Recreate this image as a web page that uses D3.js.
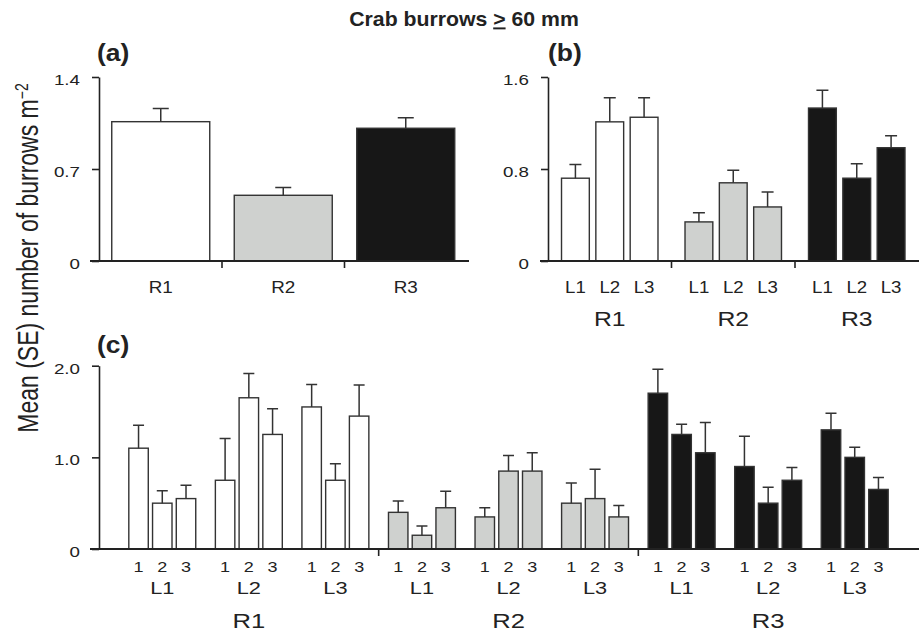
<!DOCTYPE html>
<html lang="en">
<head>
  <meta charset="utf-8">
  <title>Crab burrows</title>
  <script src="https://cdn.jsdelivr.net/npm/d3@7"></script>
  <style>
    body { margin: 0; background: #fff; }
    text { font-family: "Liberation Sans", Arial, sans-serif; fill: #222; }
    .axis path, .axis line { stroke: #222; stroke-width: 1.6; }
    .axis text { font-size: 15px; }
    .bar { stroke: #333; stroke-width: 1.4; }
    .err { stroke: #333; stroke-width: 1.5; fill: none; }
    .base { stroke: #222; stroke-width: 1.8; }
    .sep { stroke: #222; stroke-width: 1.6; }
    .panel { font-size: 23px; font-weight: bold; }
  </style>
</head>
<body>
  <div id="chart"></div>
  <script>
    // categories
    var regions = ["R1", "R2", "R3"];
    var levels = ["L1", "L2", "L3"];
    var sites = ["1", "2", "3"];
    var colors = ["#ffffff", "#cfd1cf", "#171717"];

    // (a) by region
    var aMean = [1.06, 0.50, 1.01];
    var aSE = [0.10, 0.06, 0.08];
    var aTicks = [0, 0.7, 1.4];

    // (b) by region x level
    var bMean = [0.72, 1.21, 1.25, 0.34, 0.68, 0.47, 1.33, 0.72, 0.985];
    var bSE = [0.12, 0.21, 0.17, 0.08, 0.11, 0.13, 0.155, 0.125, 0.105];
    var bTicks = [0, 0.8, 1.6];

    // (c) by region x level x site
    var cMean = [1.10, 0.50, 0.55, 0.75, 1.65, 1.25, 1.55, 0.75, 1.45,
                 0.40, 0.15, 0.45, 0.35, 0.85, 0.85, 0.50, 0.55, 0.35,
                 1.70, 1.25, 1.05, 0.90, 0.50, 0.75, 1.30, 1.00, 0.65];
    var cSE = [0.25, 0.135, 0.145, 0.455, 0.265, 0.28, 0.245, 0.18, 0.34,
               0.125, 0.10, 0.18, 0.10, 0.17, 0.20, 0.22, 0.32, 0.125,
               0.26, 0.11, 0.33, 0.33, 0.175, 0.14, 0.18, 0.11, 0.13];
    var cTicks = [0, 1.0, 2.0];

    var W = 920, H = 634;
    var svg = d3.select("#chart").append("svg")
      .attr("width", W).attr("height", H);

    // the source figure is a bit stretched sideways, so text gets a scaleX
    function place(x, y, sx) {
      return "translate(" + x + "," + y + ") scale(" + sx + ",1)";
    }

    function yAxis(y, x, ticks, fmt) {
      svg.append("g").attr("class", "axis")
        .attr("transform", "translate(" + x + ",0)")
        .call(d3.axisLeft(y).tickValues(ticks).tickSize(7).tickPadding(12)
          .tickSizeOuter(0).tickFormat(fmt))
        .call(function(g) {
          g.selectAll("text").attr("x", 0).attr("dy", "0.5em")
            .attr("transform", place(-19, 0, 1.25));
        });
    }

    function labels(cls, data, fx, y, size, sx, fmt) {
      svg.selectAll("." + cls).data(data).enter().append("text")
        .attr("class", cls)
        .attr("transform", function(d) { return place(fx(d), y, sx); })
        .attr("text-anchor", "middle").style("font-size", size + "px")
        .text(fmt);
    }

    function bars(data, mean, se, y, cap) {
      var g = svg.append("g");
      g.selectAll("rect").data(data).enter().append("rect")
        .attr("class", "bar")
        .attr("x", function(d) { return d.x; })
        .attr("width", function(d) { return d.w; })
        .attr("y", function(d, i) { return y(mean[i]); })
        .attr("height", function(d, i) { return y(0) - y(mean[i]); })
        .attr("fill", function(d) { return colors[d.r]; });
      g.selectAll("path").data(data).enter().append("path")
        .attr("class", "err")
        .attr("d", function(d, i) {
          var cx = d.x + d.w / 2, t = y(mean[i] + se[i]);
          return "M" + cx + "," + y(mean[i]) + "V" + t +
            "M" + (cx - cap) + "," + t + "H" + (cx + cap);
        });
    }

    var fmt1 = function(d) { return d === 0 ? "0" : d3.format(".1f")(d); };

    // title
    var title = svg.append("text").attr("transform", place(464, 25.5, 1.09))
      .attr("text-anchor", "middle").style("font-size", "19.5px").style("font-weight", "bold");
    title.append("tspan").text("Crab burrows ");
    title.append("tspan").style("text-decoration", "underline").text(">");
    title.append("tspan").text(" 60 mm");

    // y label
    var yl = svg.append("text")
      .attr("transform", "translate(38,258) scale(1.25,1) rotate(-90)")
      .attr("text-anchor", "middle").style("font-size", "23px");
    yl.append("tspan").text("Mean (SE) number of  burrows m");
    yl.append("tspan").attr("dy", "-0.6em").style("font-size", "14px").text("\u22122");

    // ---- panel (a)
    var xa = d3.scaleBand().domain(regions).range([99.5, 467]);
    var ya = d3.scaleLinear().domain([0, 1.4]).range([261, 77]);
    var aData = regions.map(function(r, i) {
      var w = xa.step() * 0.8;
      return { x: xa(r) + (xa.bandwidth() - w) / 2, w: w, r: i };
    });
    bars(aData, aMean, aSE, ya, 8);
    svg.append("line").attr("class", "base").attr("x1", 90).attr("x2", 469)
      .attr("y1", ya(0)).attr("y2", ya(0));
    svg.selectAll(".sepa").data(regions.slice(1)).enter().append("line")
      .attr("class", "sep").attr("x1", function(r) { return xa(r); })
      .attr("x2", function(r) { return xa(r); })
      .attr("y1", ya(0)).attr("y2", ya(0) + 7);
    yAxis(ya, 99, aTicks, fmt1);
    labels("la", regions, function(r) { return xa(r) + xa.bandwidth() / 2; },
      293, 16, 1.18, function(r) { return r; });
    svg.append("text").attr("class", "panel").attr("transform", place(97, 61, 1.15)).text("(a)");

    // ---- panel (b)
    var xb = d3.scaleBand().domain(regions).range([548, 918.5]);
    var xbIn = d3.scaleBand().domain(levels).range([-51.5, 51.5])
      .paddingInner(0.19).paddingOuter(0.095);
    var yb = d3.scaleLinear().domain([0, 1.6]).range([261, 77]);
    var bData = [];
    regions.forEach(function(r, i) {
      levels.forEach(function(l) {
        bData.push({ x: xb(r) + xb.bandwidth() / 2 + xbIn(l), w: xbIn.bandwidth(), r: i, l: l });
      });
    });
    bars(bData, bMean, bSE, yb, 6);
    svg.append("line").attr("class", "base").attr("x1", 540).attr("x2", 919)
      .attr("y1", yb(0)).attr("y2", yb(0));
    svg.selectAll(".sepb").data(regions.slice(1)).enter().append("line")
      .attr("class", "sep").attr("x1", function(r) { return xb(r); })
      .attr("x2", function(r) { return xb(r); })
      .attr("y1", yb(0)).attr("y2", yb(0) + 7);
    yAxis(yb, 548, bTicks, fmt1);
    labels("lb", bData, function(d) { return d.x + d.w / 2; },
      293, 16.5, 1.13, function(d) { return d.l; });
    labels("rb", regions, function(r) { return xb(r) + xb.bandwidth() / 2; },
      326, 21, 1.18, function(r) { return r; });
    svg.append("text").attr("class", "panel").attr("transform", place(548, 61, 1.15)).text("(b)");

    // ---- panel (c)
    var groups = [];
    regions.forEach(function(r, i) {
      levels.forEach(function(l) { groups.push({ key: r + l, r: i, l: l }); });
    });
    var xc = d3.scaleBand().domain(groups.map(function(g) { return g.key; })).range([119, 898]);
    var xcIn = d3.scaleBand().domain(sites).range([-35.6, 35.6])
      .paddingInner(0.18).paddingOuter(0.09);
    var yc = d3.scaleLinear().domain([0, 2.0]).range([549, 365.7]);
    var cData = [];
    groups.forEach(function(g) {
      sites.forEach(function(s) {
        cData.push({ x: xc(g.key) + xc.bandwidth() / 2 + xcIn(s), w: xcIn.bandwidth(), r: g.r, s: s });
      });
    });
    bars(cData, cMean, cSE, yc, 5.5);
    svg.append("line").attr("class", "base").attr("x1", 90).attr("x2", 919)
      .attr("y1", yc(0)).attr("y2", yc(0));
    svg.selectAll(".sepc").data(regions.slice(1)).enter().append("line")
      .attr("class", "sep")
      .attr("x1", function(r) { return xc(r + "L1"); })
      .attr("x2", function(r) { return xc(r + "L1"); })
      .attr("y1", yc(0)).attr("y2", yc(0) + 7);
    yAxis(yc, 99, cTicks, fmt1);
    labels("sc", cData, function(d) { return d.x + d.w / 2; },
      572, 15, 1.2, function(d) { return d.s; });
    labels("lc", groups, function(g) { return xc(g.key) + xc.bandwidth() / 2; },
      594, 17, 1.28, function(g) { return g.l; });
    labels("rc", regions, function(r) { return xc(r + "L2") + xc.bandwidth() / 2; },
      628, 21, 1.22, function(r) { return r; });
    svg.append("text").attr("class", "panel").attr("transform", place(97, 353, 1.15)).text("(c)");
  </script>
</body>
</html>
